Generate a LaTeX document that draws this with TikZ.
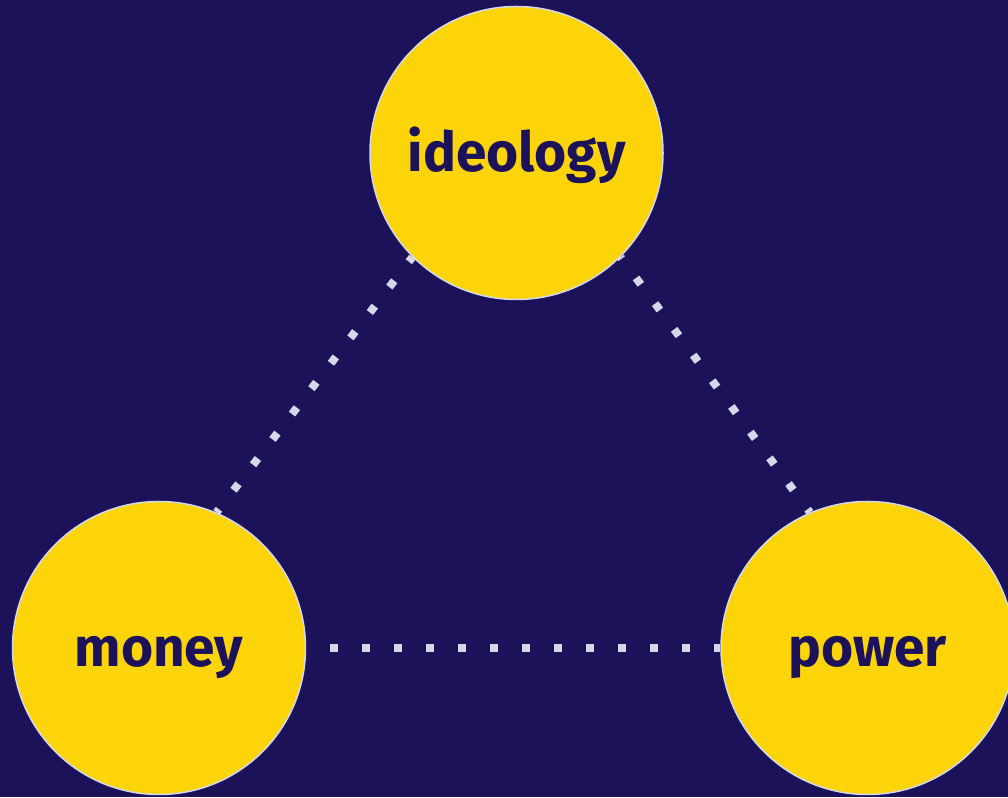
\documentclass[tikz,border=0pt]{standalone}
\usepackage{fontspec}
\setmainfont{Fira Sans}
\usepackage{tikz}
\usetikzlibrary{calc}

\definecolor{nightblue}{HTML}{1C1259}
\definecolor{sunyellow}{HTML}{FDD408}
\definecolor{lavender}{HTML}{D4D8EA}

\tikzset{
	topic/.style={circle, fill=sunyellow, draw=lavender, line width=1.5pt, minimum size=293pt, inner sep=0pt, text height=50pt, text depth=12pt, text=nightblue, font=\fontsize{55}{60}\selectfont\bfseries},
	link/.style={draw=lavender, line width=8pt, dash pattern=on 8pt off 24pt}
}

\begin{document}
\begin{tikzpicture}[x=1pt, y=1pt]
	
	\fill [nightblue] (0,0) rectangle (1008,797);
	\useasboundingbox (0,0) rectangle (1008,797);
	
	\foreach \x/\y/\n in {516.5/644/ideology, 159/149/money, 867.5/149/power}{
		\node [topic] (\n) at (\x, \y) {\n};
	}
	
	\draw [link, dash phase=4pt] (money.67) -- (ideology.225);
	\draw [link, dash phase=4pt] (power.113) -- (ideology.-45);
	\draw [link, dash phase=8pt] (money.east) -- (power.west);
	
\end{tikzpicture}
\end{document}
